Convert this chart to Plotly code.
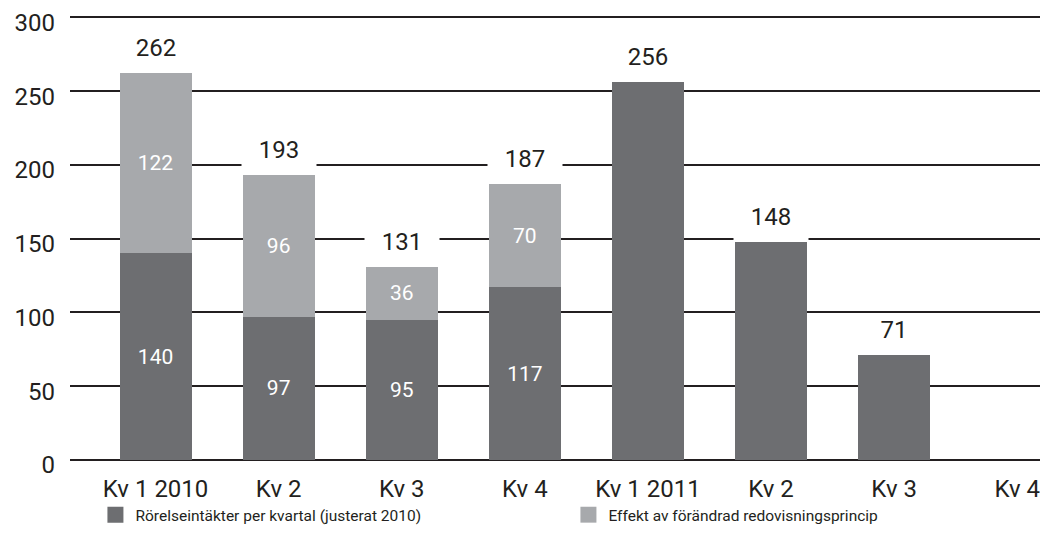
import plotly.graph_objects as go

categories = ["Kv 1 2010", "Kv 2", "Kv 3", "Kv 4", "Kv 1 2011", "Kv 2", "Kv 3", "Kv 4"]
rorelse = [140, 97, 95, 117, 256, 148, 71, None]
effekt = [122, 96, 36, 70, None, None, None, None]
series_names = ["Rörelseintäkter per kvartal (justerat 2010)", "Effekt av förändrad redovisningsprincip"]

DARK = "#6d6e71"
LIGHT = "#a7a9ac"
INK = "#231f20"
FONT = "Roboto"

x = list(range(len(categories)))

# inner labels only shown on stacked (two-part) bars
dark_text = [str(r) if (r is not None and e is not None) else "" for r, e in zip(rorelse, effekt)]
light_text = [str(e) if e is not None else "" for e in effekt]

fig = go.Figure()
for vals, txt, col, name in [(rorelse, dark_text, DARK, series_names[0]),
                             (effekt, light_text, LIGHT, series_names[1])]:
    fig.add_trace(go.Bar(
        x=x, y=vals, name=name, legendgroup=name, showlegend=False,
        marker=dict(color=col, line=dict(width=0)),
        width=0.585, text=txt,
        textposition="inside", insidetextanchor="middle", constraintext="none",
        textfont=dict(color="white", size=21, family=FONT), hoverinfo="skip",
    ))

# legend entries with larger square swatches
for col, name in [(DARK, series_names[0]), (LIGHT, series_names[1])]:
    fig.add_trace(go.Scatter(
        x=[None], y=[None], mode="markers", name=name, legendgroup=name,
        marker=dict(symbol="square", size=16, color=col, line=dict(width=0)),
        hoverinfo="skip",
    ))

for i in x:
    if rorelse[i] is None:
        continue
    total = rorelse[i] + (effekt[i] or 0)
    fig.add_annotation(
        x=i, y=total, xref="x", yref="y", text=str(total), showarrow=False,
        yanchor="bottom", bgcolor="white", width=74, height=38, valign="top",
        borderpad=0, font=dict(size=24, color=INK, family=FONT),
    )

fig.update_layout(
    barmode="stack",
    width=1040, height=547,
    margin=dict(l=62, r=0, t=5, b=95, autoexpand=False),
    paper_bgcolor="white", plot_bgcolor="white",
    font=dict(family=FONT, color=INK, size=24),
    showlegend=True,
    legend=dict(
        orientation="h", xref="paper", x=0.026, xanchor="left",
        yref="container", y=0.073, yanchor="middle",
        font=dict(size=15.5, color=INK, family=FONT), entrywidth=428, entrywidthmode="pixels",
        traceorder="normal", itemsizing="trace",
    ),
    xaxis=dict(
        tickmode="array", tickvals=x, ticktext=categories, range=[-0.695, 7.25],
        showgrid=False, zeroline=False, showline=False, ticks="", ticklabelstandoff=12,
        tickfont=dict(size=24, color=INK, family=FONT), automargin=False,
        ticklabeloverflow="allow",
    ),
    yaxis=dict(
        range=[0, 303], tickvals=[0, 50, 100, 150, 200, 250, 300],
        showgrid=True, gridcolor=INK, gridwidth=1.5, zeroline=True, zerolinecolor=INK,
        zerolinewidth=1.5, showline=False, ticks="", ticklabelstandoff=14,
        ticklabelshift=5,
        tickfont=dict(size=24, color=INK, family=FONT), automargin=False,
        ticklabeloverflow="allow",
    ),
)

fig.write_html("out.html")
